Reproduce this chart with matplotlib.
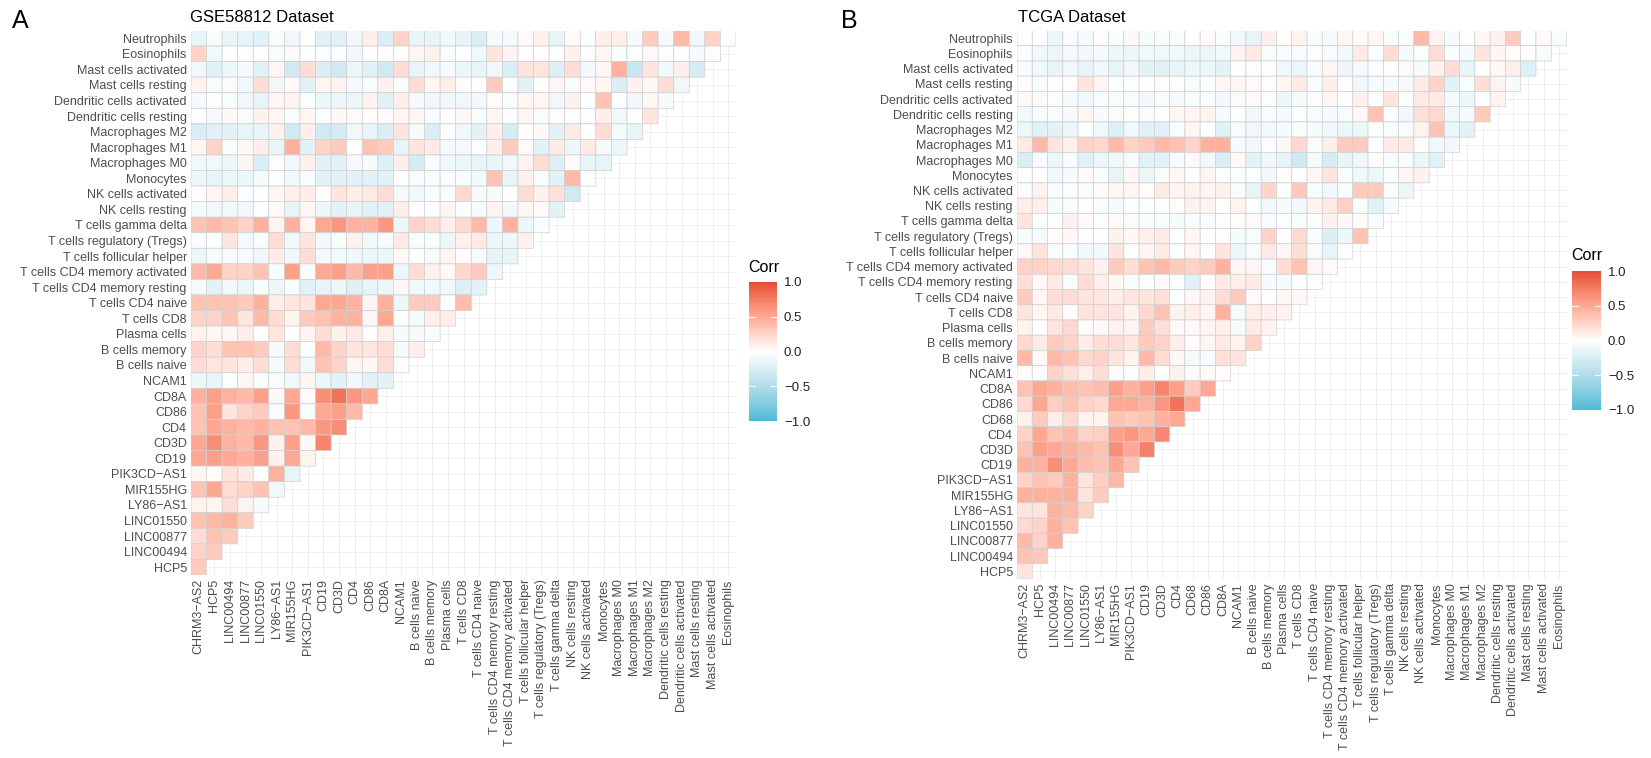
import numpy as np
import matplotlib
matplotlib.use("Agg")
import matplotlib.pyplot as plt
from matplotlib.colors import ListedColormap, Normalize, to_rgb
from matplotlib.cm import ScalarMappable

plt.rcParams["font.family"] = ["Liberation Sans", "DejaVu Sans"]

# ---- data -----------------------------------------------------------------
# column order of panel A (the row variables are the same list shifted by one + Neutrophils)
vars_a = ["CHRM3−AS2", "HCP5", "LINC00494", "LINC00877", "LINC01550", "LY86−AS1",
          "MIR155HG", "PIK3CD−AS1", "CD19", "CD3D", "CD4", "CD86", "CD8A", "NCAM1",
          "B cells naive", "B cells memory", "Plasma cells", "T cells CD8",
          "T cells CD4 naive", "T cells CD4 memory resting", "T cells CD4 memory activated",
          "T cells follicular helper", "T cells regulatory (Tregs)", "T cells gamma delta",
          "NK cells resting", "NK cells activated", "Monocytes", "Macrophages M0",
          "Macrophages M1", "Macrophages M2", "Dendritic cells resting",
          "Dendritic cells activated", "Mast cells resting", "Mast cells activated",
          "Eosinophils", "Neutrophils"]

vars_b = ["CHRM3−AS2", "HCP5", "LINC00494", "LINC00877", "LINC01550", "LY86−AS1",
          "MIR155HG", "PIK3CD−AS1", "CD19", "CD3D", "CD4", "CD68", "CD86", "CD8A", "NCAM1",
          "B cells naive", "B cells memory", "Plasma cells", "T cells CD8",
          "T cells CD4 naive", "T cells CD4 memory resting", "T cells CD4 memory activated",
          "T cells follicular helper", "T cells regulatory (Tregs)", "T cells gamma delta",
          "NK cells resting", "NK cells activated", "Monocytes", "Macrophages M0",
          "Macrophages M1", "Macrophages M2", "Dendritic cells resting",
          "Dendritic cells activated", "Mast cells resting", "Mast cells activated",
          "Eosinophils", "Neutrophils"]

# lower-triangle correlations, rows from top (Neutrophils) to bottom (HCP5)
corr_a = [
    [-0.15, -0.05, -0.15, -0.15, -0.2, -0.05, -0.1, 0, -0.2, -0.2, -0.1, 0.1, -0.25, 0.25, -0.15, -0.15, -0.1, -0.15,
     -0.25, -0.07, -0.07, 0.03, 0.08, -0.15, 0.03, -0.03, 0.1, 0.1, -0.07, 0.3, -0.07, 0.4, -0.1, 0.25, -0.02],
    [0.25, -0.1, 0, 0, 0.02, -0.05, 0.03, -0.03, -0.03, -0.03, -0.08, 0, 0, 0, 0.05, 0.08, -0.05, 0,
     -0.1, 0.15, 0.07, -0.03, 0.02, 0, 0.08, -0.03, 0.05, -0.05, -0.03, 0.03, 0, 0, -0.06, 0.02],
    [-0.1, -0.2, -0.12, -0.07, -0.2, 0.05, -0.3, 0.2, -0.25, -0.3, -0.12, -0.2, -0.3, 0.2, -0.15, -0.1, -0.07, -0.12,
     -0.15, -0.1, -0.25, 0.15, 0.15, -0.22, 0.2, -0.08, 0.05, 0.45, -0.35, 0.15, -0.08, 0.1, -0.28],
    [0.07, -0.05, 0.03, -0.1, 0.2, -0.1, 0.03, -0.2, 0.05, 0.07, -0.07, -0.05, 0.08, -0.05, 0.2, 0.05, 0.1, -0.02,
     0.02, 0.3, -0.03, -0.18, 0, 0.05, -0.04, 0.03, 0.05, -0.25, 0.08, 0.04, 0.2, -0.1],
    [-0.07, 0, -0.05, -0.1, -0.15, 0.05, 0.07, -0.03, -0.12, -0.12, -0.12, 0.07, -0.18, 0.1, -0.07, -0.1, -0.1, -0.1,
     -0.08, 0.01, -0.05, 0.05, 0.05, -0.1, 0.08, -0.03, 0.35, 0, -0.1, 0.04, -0.07],
    [0, -0.07, 0.04, -0.05, 0.08, 0.05, -0.04, 0.06, -0.02, 0.04, 0.03, 0.01, 0.02, 0.05, 0.05, -0.06, 0, 0.04,
     -0.05, 0.05, -0.03, 0.05, -0.04, 0, -0.03, -0.03, 0.1, -0.1, 0, 0.15],
    [-0.25, -0.2, -0.18, -0.15, -0.15, 0.08, -0.3, 0.1, -0.3, -0.28, -0.1, -0.15, -0.25, 0.15, -0.07, -0.25, -0.02, -0.1,
     -0.18, 0.1, -0.27, 0, 0.04, -0.18, 0.12, -0.03, 0.2, -0.07, -0.15],
    [0.05, 0.25, -0.05, 0.04, 0.1, -0.15, 0.45, -0.2, 0.25, 0.3, 0, 0.35, 0.3, -0.15, 0.15, 0.12, -0.07, -0.07,
     -0.03, 0.1, 0.3, 0.03, -0.2, 0.12, -0.12, 0.12, -0.07, -0.12],
    [-0.1, -0.1, -0.12, 0.05, -0.25, 0.01, -0.1, 0.08, -0.18, -0.18, -0.07, -0.06, -0.22, 0.1, -0.28, -0.04, -0.1, -0.12,
     -0.15, -0.15, -0.1, 0.07, 0.2, -0.22, 0.03, -0.15, -0.15],
    [-0.12, -0.15, -0.12, -0.12, -0.07, -0.03, -0.1, -0.05, -0.18, -0.18, -0.18, -0.2, -0.2, 0, -0.04, -0.05, -0.04, -0.04,
     -0.08, 0.35, -0.15, 0.08, -0.05, -0.18, 0.4, -0.03],
    [0.01, 0.05, 0.1, -0.03, -0.03, 0.05, 0.1, 0.1, 0, 0.15, 0.1, 0.12, 0.2, -0.07, -0.08, -0.06, -0.05, 0.22,
     -0.07, -0.06, 0, 0.2, 0.08, 0.18, -0.3],
    [-0.07, -0.1, -0.08, -0.1, -0.03, 0.03, -0.15, 0.05, -0.12, -0.18, -0.15, -0.2, -0.2, 0.1, 0, -0.03, 0.05, -0.03,
     -0.06, 0.07, -0.1, 0.06, 0.03, -0.18],
    [0.35, 0.4, 0.35, 0.25, 0.45, 0.07, 0.45, 0.05, 0.5, 0.6, 0.45, 0.45, 0.6, -0.12, 0.25, 0.2, 0.1, 0.22,
     0.4, -0.12, 0.45, -0.12, -0.05],
    [-0.05, -0.03, 0.15, -0.07, -0.04, 0.2, -0.1, 0.15, -0.08, -0.05, 0.08, -0.1, -0.06, 0.12, -0.05, -0.05, -0.12, 0.08,
     0.12, -0.12, -0.12, 0.08],
    [-0.12, -0.06, -0.06, -0.06, -0.1, 0.12, -0.1, 0.2, -0.08, -0.08, -0.1, -0.12, -0.12, 0.04, -0.03, -0.05, 0.05, 0.02,
     -0.07, -0.15, -0.15],
    [0.4, 0.5, 0.25, 0.25, 0.35, -0.05, 0.55, -0.05, 0.5, 0.55, 0.4, 0.55, 0.55, -0.12, 0.2, 0.08, 0.04, 0.23,
     0.3, -0.12],
    [-0.07, -0.18, -0.1, -0.12, -0.05, -0.12, -0.05, -0.2, -0.15, -0.12, -0.22, -0.15, -0.12, 0.04, -0.1, -0.08, -0.1, -0.23,
     -0.18],
    [0.35, 0.35, 0.35, 0.3, 0.45, 0.1, 0.15, 0.15, 0.5, 0.5, 0.45, 0.05, 0.45, -0.12, 0.3, 0.3, -0.02, 0.38],
    [0.25, 0.25, 0.35, 0.15, 0.4, 0.2, 0.07, 0.3, 0.35, 0.45, 0.45, 0.05, 0.5, 0.01, -0.06, 0.1, 0.1],
    [0.07, 0.05, 0.04, 0.1, 0, 0.15, -0.03, 0.07, 0.2, 0.08, 0.12, 0.02, 0.1, -0.06, -0.06, -0.05],
    [0.25, 0.2, 0.35, 0.35, 0.3, -0.07, 0.2, -0.03, 0.4, 0.25, 0.15, 0.15, 0.2, -0.07, 0.1],
    [0.2, 0.15, 0.15, 0.1, 0.2, -0.07, 0.2, -0.1, 0.35, 0.25, 0.06, 0.04, 0.2, 0.01],
    [-0.12, -0.15, -0.03, 0.05, -0.05, -0.05, -0.1, 0.05, -0.12, -0.18, -0.08, -0.18, -0.18],
    [0.45, 0.55, 0.45, 0.4, 0.55, 0.04, 0.5, 0.03, 0.65, 0.8, 0.6, 0.5],
    [0.35, 0.55, 0.15, 0.25, 0.3, -0.05, 0.6, -0.05, 0.5, 0.55, 0.4],
    [0.35, 0.5, 0.45, 0.4, 0.45, 0.35, 0.35, 0.4, 0.6, 0.65],
    [0.5, 0.65, 0.45, 0.4, 0.6, 0.08, 0.55, 0.04, 0.7],
    [0.5, 0.55, 0.5, 0.45, 0.55, 0.08, 0.5, 0.07],
    [0.05, 0.02, 0.15, 0.12, 0, 0.45, -0.15],
    [0.35, 0.5, 0.2, 0.25, 0.35, -0.1],
    [0.07, 0.06, 0.2, 0.07, -0.07],
    [0.35, 0.4, 0.45, 0.3],
    [0.2, 0.35, 0.3],
    [0.25, 0.3],
    [0.3],
]

corr_b = [
    [0, 0, -0.12, -0.04, -0.07, 0.01, -0.05, 0.04, -0.06, -0.05, -0.05, 0, 0.03, -0.05, -0.1, -0.15, 0.1, 0.01, 0.07,
     -0.05, -0.07, 0.05, 0.03, 0.05, -0.04, -0.05, 0.4, 0.07, -0.06, 0, 0.04, 0.08, 0.3, 0, 0.03, -0.05],
    [-0.03, -0.1, -0.12, -0.07, -0.08, -0.07, -0.12, -0.12, -0.1, -0.1, -0.1, -0.12, -0.12, -0.08, 0.07, 0.12, -0.05, -0.04, -0.05,
     -0.03, -0.05, -0.08, 0.12, -0.03, 0.2, -0.07, -0.03, 0.2, -0.04, -0.06, 0.15, 0.05, 0.02, 0.01, -0.05],
    [-0.05, -0.1, -0.15, -0.1, -0.15, -0.1, -0.15, -0.08, -0.18, -0.2, -0.15, -0.12, -0.12, -0.18, 0, -0.03, -0.02, -0.1, -0.13,
     -0.04, 0.05, -0.12, -0.07, -0.03, 0, 0.03, -0.06, 0.08, 0.2, -0.15, 0, 0.04, 0.1, -0.22],
    [0.02, -0.04, 0.02, 0.02, 0.15, 0.05, -0.03, -0.02, 0, 0.01, 0.01, -0.05, -0.03, 0.05, 0.05, 0.03, -0.02, 0.06, 0.11,
     -0.04, 0.1, 0.01, -0.1, -0.06, -0.06, -0.07, 0.12, 0.25, -0.2, -0.05, 0.2, 0.07, -0.06],
    [0.04, 0.03, -0.03, -0.06, -0.08, -0.05, -0.04, -0.05, -0.08, -0.05, -0.07, -0.05, -0.05, -0.08, -0.04, 0.03, -0.03, -0.12, -0.06,
     0, 0.05, 0, 0.08, -0.03, 0.15, -0.02, 0.12, 0.12, -0.07, -0.12, -0.03, 0.07],
    [-0.08, -0.06, -0.04, -0.06, 0.05, -0.06, -0.04, 0, -0.04, 0, 0.05, 0.05, 0.07, -0.06, 0, -0.1, -0.04, -0.07, -0.03,
     -0.04, -0.06, -0.05, 0.04, 0.35, -0.03, -0.1, 0.18, 0.22, -0.1, -0.07, 0.3],
    [-0.12, -0.2, -0.18, -0.12, -0.03, -0.1, -0.22, -0.1, -0.2, -0.2, -0.05, 0.06, -0.03, -0.2, -0.05, -0.1, -0.08, -0.06, -0.05,
     -0.06, -0.1, -0.12, -0.12, -0.02, -0.05, -0.04, 0.07, 0.35, -0.12, -0.18],
    [0.12, 0.4, 0.15, 0.1, 0.25, 0.22, 0.4, 0.25, 0.3, 0.4, 0.35, 0.25, 0.45, 0.45, -0.06, -0.08, -0.02, 0.04, 0.22,
     -0.04, 0.1, 0.3, 0.3, -0.03, 0.12, 0.12, 0.01, -0.1, -0.1],
    [-0.25, -0.07, -0.12, -0.06, -0.2, -0.12, -0.1, -0.06, -0.2, -0.2, -0.06, 0.03, -0.08, -0.25, 0.04, -0.18, -0.1, -0.15, -0.3,
     -0.07, -0.28, -0.15, -0.1, 0.02, -0.04, -0.04, -0.12, -0.2],
    [0, 0, -0.1, -0.06, 0.03, -0.05, -0.15, 0.04, -0.12, -0.05, 0.04, -0.03, 0.05, -0.03, -0.03, -0.03, -0.08, 0.01, 0,
     0.05, 0.15, -0.04, -0.1, -0.12, -0.04, 0.06, 0.08],
    [-0.03, 0.08, -0.05, -0.03, -0.05, 0.03, 0.05, 0.05, 0.02, 0.12, 0.06, 0.07, 0.06, 0.08, -0.05, -0.15, 0.25, 0, 0.32,
     -0.05, -0.1, -0.05, 0.3, 0.3, -0.05, -0.12],
    [0.1, 0.1, -0.06, -0.05, 0.01, -0.04, -0.07, -0.03, -0.03, -0.02, 0.02, 0.08, 0.07, 0.01, 0.07, -0.01, -0.1, -0.06, -0.08,
     0.07, 0.12, 0.28, -0.04, -0.2, -0.07],
    [0.15, -0.03, 0, 0.08, 0.03, -0.03, 0.03, -0.05, -0.04, -0.04, -0.06, -0.05, -0.04, -0.03, 0.01, 0.03, -0.04, 0, -0.05,
     0, 0.08, 0.04, 0.02, -0.05],
    [-0.05, -0.07, 0.02, 0.04, -0.03, 0, 0.08, 0.04, 0.1, 0.12, 0, 0.05, -0.03, 0.01, -0.06, -0.04, 0.25, -0.03, 0.22,
     -0.05, -0.25, -0.12, 0.35],
    [0.04, 0.15, -0.05, -0.05, -0.08, -0.08, 0.15, -0.03, 0.06, 0.12, -0.03, 0.06, -0.03, 0.15, -0.12, -0.05, 0.12, 0.06, 0.19,
     -0.05, -0.15, -0.02],
    [0.25, 0.25, 0.22, 0.2, 0.15, 0.08, 0.3, 0.2, 0.35, 0.4, 0.3, 0.25, 0.3, 0.45, 0.05, 0.04, -0.05, 0.2, 0.35,
     0.06, 0.03],
    [0.18, 0.04, 0.12, -0.05, 0.2, 0.1, 0.04, -0.04, -0.01, 0.03, -0.03, -0.2, 0.01, 0.12, 0.1, 0.12, -0.06, -0.06, 0,
     0],
    [0.3, 0.05, 0.2, 0.2, 0.15, 0.15, 0.1, 0.15, 0.15, 0.18, -0.01, 0.04, 0.08, 0.2, 0.3, 0.03, 0, 0.05, 0.04],
    [0.15, 0.06, 0.12, 0.02, 0.15, 0.15, 0.15, 0.07, 0.22, 0.35, 0.07, 0.1, 0.05, 0.45, -0.07, 0.1, 0.1, 0.07],
    [0.07, 0, 0.15, 0.22, 0.02, 0.03, 0.08, 0.05, 0.3, 0.18, 0.03, 0.03, 0.05, 0.1, -0.06, 0.12, 0.07],
    [0.22, 0.12, 0.3, 0.25, 0.1, 0.2, 0.2, 0.15, 0.3, 0.25, 0.1, 0.02, 0.06, 0.12, 0.07, 0.25],
    [0.4, 0.03, 0.4, 0.35, 0.22, 0.25, 0.15, 0.07, 0.4, 0.2, 0.04, -0.07, -0.06, 0.18, 0.15],
    [0.01, 0.02, 0.25, 0.18, 0.1, 0.2, 0.03, 0, 0.1, 0, 0.08, 0.03, 0.04, 0.02],
    [0.35, 0.5, 0.45, 0.38, 0.35, 0.38, 0.55, 0.45, 0.55, 0.7, 0.55, 0.3, 0.5],
    [0.22, 0.5, 0.28, 0.35, 0.25, 0.22, 0.5, 0.5, 0.45, 0.6, 0.8, 0.5],
    [0.08, 0.3, 0.1, 0.22, 0.07, 0.07, 0.35, 0.3, 0.35, 0.45, 0.5],
    [0.25, 0.5, 0.35, 0.4, 0.25, 0.28, 0.55, 0.6, 0.5, 0.68],
    [0.35, 0.55, 0.5, 0.45, 0.4, 0.35, 0.65, 0.5, 0.72],
    [0.45, 0.45, 0.65, 0.5, 0.38, 0.35, 0.5, 0.35],
    [0.25, 0.35, 0.3, 0.45, 0.15, 0.28, 0.42],
    [0.45, 0.45, 0.45, 0.45, 0.15, 0.3],
    [0.15, 0.15, 0.45, 0.4, 0.25],
    [0.22, 0.25, 0.45, 0.35],
    [0.4, 0.25, 0.45],
    [0.35, 0.32],
    [0.15],
]

cbar_ticks = [-1.0, -0.5, 0.0, 0.5, 1.0]

# ---- colour scale (ggplot style: interpolate low/mid/high in CIE Lab) -----
WHITE = np.array([0.95047, 1.0, 1.08883])


def rgb2lab(c):
    c = np.asarray(c, float)
    lin = np.where(c > 0.04045, ((c + 0.055) / 1.055) ** 2.4, c / 12.92)
    M = np.array([[0.4124, 0.3576, 0.1805], [0.2126, 0.7152, 0.0722], [0.0193, 0.1192, 0.9505]])
    xyz = M @ lin / WHITE
    f = np.where(xyz > 0.008856, np.cbrt(xyz), 7.787 * xyz + 16 / 116)
    return np.array([116 * f[1] - 16, 500 * (f[0] - f[1]), 200 * (f[1] - f[2])])


def lab2rgb(lab):
    fy = (lab[0] + 16) / 116
    f = np.array([fy + lab[1] / 500, fy, fy - lab[2] / 200])
    xyz = np.where(f > 0.2069, f ** 3, (f - 16 / 116) / 7.787) * WHITE
    Minv = np.array([[3.2406, -1.5372, -0.4986], [-0.9689, 1.8758, 0.0415], [0.0557, -0.2040, 1.0570]])
    lin = np.clip(Minv @ xyz, 0, 1)
    c = np.where(lin > 0.0031308, 1.055 * lin ** (1 / 2.4) - 0.055, 12.92 * lin)
    return np.clip(c, 0, 1)


low, mid, high = [rgb2lab(to_rgb(c)) for c in ["#4DBBD5", "#FFFFFF", "#E64B35"]]
ramp = []
for t in np.linspace(-1, 1, 256):
    a, b = (mid, high) if t >= 0 else (mid, low)
    ramp.append(lab2rgb(a + (b - a) * abs(t)))
cmap = ListedColormap(ramp)
norm = Normalize(-1, 1)

# ---- drawing --------------------------------------------------------------
W, H = 1651, 758


def box(x0, y0, x1, y1):
    # pixel box (top-left origin) -> figure fraction rect
    return [x0 / W, 1 - y1 / H, (x1 - x0) / W, (y1 - y0) / H]


def heat(ax, rows, names):
    cols = names[:-1]
    ylabels = names[1:][::-1]
    n = len(rows)
    m = np.full((n, len(cols)), np.nan)
    for i, r in enumerate(rows):
        m[i, :len(r)] = r
    m = np.ma.masked_invalid(m)
    ax.pcolor(m, cmap=cmap, norm=norm, edgecolors="#D0D0D0", linewidth=0.5)
    ax.set_xlim(0, len(cols))
    ax.set_ylim(n, 0)
    ax.set_xticks(np.arange(len(cols)) + 0.5)
    ax.set_xticklabels(cols, rotation=90, ha="center", va="top")
    ax.set_yticks(np.arange(n) + 0.5)
    ax.set_yticklabels(ylabels)
    ax.tick_params(length=0, labelsize=9, labelcolor="#4D4D4D", pad=3)
    ax.grid(True, color="#EBEBEB", linewidth=0.6)
    ax.set_axisbelow(True)
    for s in ax.spines.values():
        s.set_visible(False)


def legend(fig, rect, title_xy):
    cax = fig.add_axes(rect)
    cb = fig.colorbar(ScalarMappable(norm=norm, cmap=cmap), cax=cax, ticks=cbar_ticks)
    cb.outline.set_visible(False)
    cb.ax.set_yticklabels([f"{t:.1f}".replace("-", "−") for t in cbar_ticks])
    cb.ax.tick_params(length=0, labelsize=9.5, pad=5, labelcolor="#222222")
    for t in [-0.5, 0.0, 0.5]:
        cax.plot([0, 0.2], [t, t], color="white", lw=0.8, transform=cax.get_yaxis_transform())
        cax.plot([0.8, 1], [t, t], color="white", lw=0.8, transform=cax.get_yaxis_transform())
    fig.text(title_xy[0] / W, 1 - title_xy[1] / H, "Corr", fontsize=11.5, va="baseline")


fig = plt.figure(figsize=(W / 100, H / 100), dpi=100)

ax_a = fig.add_axes(box(191, 30.5, 736, 575))
heat(ax_a, corr_a, vars_a)
ax_b = fig.add_axes(box(1017, 30.5, 1566.5, 579))
heat(ax_b, corr_b, vars_b)

legend(fig, box(749, 282, 777, 421), (748, 272))
legend(fig, box(1572, 271, 1601, 410), (1571, 260))

fig.text(12 / W, 1 - 28 / H, "A", fontsize=18, va="baseline")
fig.text(190 / W, 1 - 22 / H, "GSE58812 Dataset", fontsize=12, va="baseline")
fig.text(841 / W, 1 - 28 / H, "B", fontsize=18, va="baseline")
fig.text(1018 / W, 1 - 22 / H, "TCGA Dataset", fontsize=12, va="baseline")

fig.savefig("out.png", dpi=100, facecolor="white")
